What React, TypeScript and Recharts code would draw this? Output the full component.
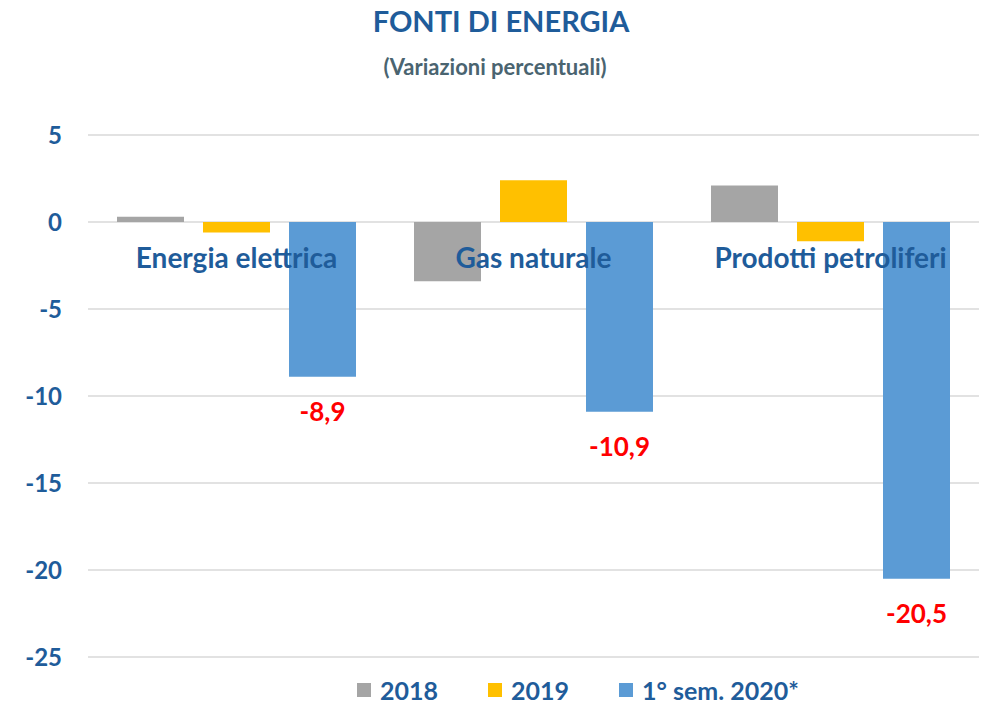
import {
  Bar,
  BarChart,
  CartesianGrid,
  LabelList,
  Legend,
  XAxis,
  YAxis,
} from "recharts";

const categories = ["Energia elettrica", "Gas naturale", "Prodotti petroliferi"];
const values2018 = [0.3, -3.4, 2.1];
const values2019 = [-0.6, 2.4, -1.1];
const valuesSem2020 = [-8.9, -10.9, -20.5];
const yTicks = [5, 0, -5, -10, -15, -20, -25];
const seriesNames = ["2018", "2019", "1° sem. 2020*"];

const BLUE_TEXT = "#1F5C9A";
const FONT = "Lato, 'Open Sans', sans-serif";

const data = categories.map((name, i) => ({
  name,
  y2018: values2018[i],
  y2019: values2019[i],
  sem2020: valuesSem2020[i],
}));

const CategoryTick = (props: any) => {
  const { x, y, payload } = props;
  return (
    <text
      x={x}
      y={Number(y) + 133}
      textAnchor="middle"
      fill={BLUE_TEXT}
      fontSize={28}
      fontWeight={700}
      fontFamily={FONT}
    >
      {payload.value}
    </text>
  );
};

const RedLabel = (props: any) => {
  const { x, y, width, height, value } = props;
  const bottom = Math.max(Number(y), Number(y) + Number(height));
  return (
    <text
      x={Number(x) + Number(width) / 2}
      y={bottom + 44}
      textAnchor="middle"
      fill="#FF0000"
      fontSize={26}
      fontWeight={700}
      fontFamily={FONT}
    >
      {Number(value).toFixed(1).replace(".", ",")}
    </text>
  );
};

const renderLegend = (props: any) => {
  const items = [...(props.payload || [])].sort(
    (a: any, b: any) => seriesNames.indexOf(a.value) - seriesNames.indexOf(b.value)
  );
  return (
    <div style={{ display: "flex", gap: 50, alignItems: "center" }}>
      {items.map((p: any) => (
        <div
          key={p.value}
          style={{ display: "flex", alignItems: "center", gap: 9 }}
        >
          <span
            style={{
              width: 14,
              height: 14,
              background: p.color,
              display: "inline-block",
            }}
          />
          <span
            style={{
              color: BLUE_TEXT,
              fontFamily: FONT,
              fontWeight: 700,
              fontSize: 25,
              lineHeight: "30px",
            }}
          >
            {p.value}
          </span>
        </div>
      ))}
    </div>
  );
};

export default function App() {
  return (
    <div
      style={{
        position: "absolute",
        left: 0,
        top: 0,
        width: 987,
        height: 705,
        background: "#fff",
      }}
    >
      <div
        style={{
          position: "absolute",
          top: 3,
          left: 0,
          width: 1002,
          textAlign: "center",
          color: BLUE_TEXT,
          fontFamily: FONT,
          fontWeight: 700,
          fontSize: 29,
        }}
      >
        FONTI DI ENERGIA
      </div>
      <div
        style={{
          position: "absolute",
          top: 53,
          left: 0,
          width: 990,
          textAlign: "center",
          color: "#4A6470",
          fontFamily: FONT,
          fontWeight: 700,
          fontSize: 22,
        }}
      >
        (Variazioni percentuali)
      </div>
      <BarChart
        width={987}
        height={705}
        data={data}
        margin={{ top: 105, right: 8, bottom: 48, left: 0 }}
        barCategoryGap={29}
        barGap={19}
      >
        <CartesianGrid vertical={false} stroke="#D9D9D9" strokeWidth={1.5} />
        <XAxis
          dataKey="name"
          orientation="top"
          height={30}
          axisLine={false}
          tickLine={false}
          tickSize={0}
          tickMargin={0}
          interval={0}
          tick={(p: any) => <CategoryTick {...p} />}
        />
        <YAxis
          width={88}
          domain={[-25, 5]}
          ticks={yTicks}
          interval={0}
          axisLine={false}
          tickLine={false}
          tickSize={0}
          tickMargin={26}
          tick={{
            fill: BLUE_TEXT,
            fontSize: 24,
            fontWeight: 700,
            fontFamily: FONT,
          }}
        />
        <Legend
          layout="horizontal"
          verticalAlign="middle"
          align="center"
          wrapperStyle={{ left: 357, top: 675, width: 600 }}
          content={renderLegend}
        />
        <Bar dataKey="y2018" name={seriesNames[0]} fill="#A5A5A5" isAnimationActive={false} />
        <Bar dataKey="y2019" name={seriesNames[1]} fill="#FFC000" isAnimationActive={false} />
        <Bar
          dataKey="sem2020"
          name={seriesNames[2]}
          fill="#5B9BD5"
          isAnimationActive={false}
        >
          <LabelList dataKey="sem2020" content={<RedLabel />} />
        </Bar>
      </BarChart>
    </div>
  );
}
